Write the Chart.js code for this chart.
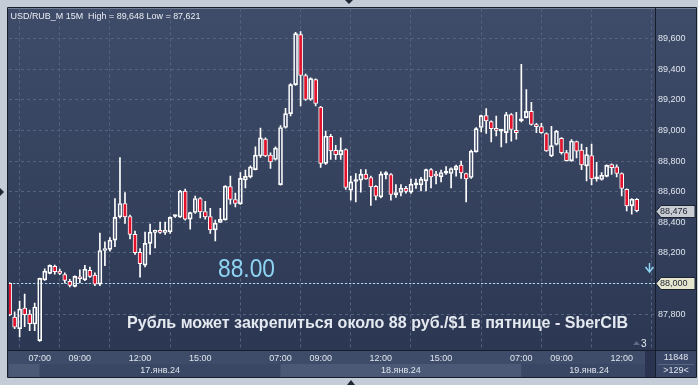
<!DOCTYPE html>
<html>
<head>
<meta charset="utf-8">
<script src="https://cdn.jsdelivr.net/npm/chart.js@4.4.1/dist/chart.umd.min.js"></script>
<style>
    html, body { margin: 0; padding: 0; background: #c4ccd8; overflow: hidden; }
    canvas { display: block; }
</style>
</head>
<body>
<canvas id="priceChart" width="698" height="385"></canvas>
<script>
// USD/RUB_M 15M candles (one entry per 15 min bar)
const opens = [
    88001, 87780, 87704, 87839, 87800, 87735, 87626, 88024, 88066, 88112,
    88081, 88059, 88014, 87981, 88042, 88024, 88086, 88055, 87996, 88216,
    88223, 88284, 88436, 88523, 88438, 88321, 88203, 88120, 88262, 88334,
    88347, 88334, 88338, 88438, 88434, 88604, 88421, 88464, 88556, 88471,
    88438, 88351, 88399, 88416, 88634, 88549, 88521, 88677, 88697, 88745,
    88834, 88945, 88839, 88811, 88647, 89020, 89111, 89301, 89627, 89360,
    89203, 89333, 89154, 88785, 88963, 88870, 88841, 88876, 88610, 88667,
    88676, 88715, 88693, 88636, 88566, 88712, 88713, 88580, 88595, 88623,
    88597, 88645, 88645, 88671, 88745, 88705, 88697, 88722, 88719, 88745,
    88774, 88719, 88693, 88861, 89020, 89098, 89059, 89003, 88996, 88987,
    89105, 89002, 89063, 89085, 89126, 89037, 89026, 88981, 88834, 88909,
    88950, 88856, 88802, 88928, 88872, 88769, 88837, 88684, 88680, 88700,
    88778, 88763, 88719, 88615, 88508, 88551
];
const highs = [
    88005, 87815, 87885, 87931, 87826, 87872, 88035, 88096, 88122, 88120,
    88094, 88070, 88027, 88050, 88090, 88118, 88107, 88070, 88329, 88272,
    88301, 88556, 88824, 88595, 88447, 88342, 88229, 88336, 88388, 88349,
    88401, 88401, 88436, 88447, 88610, 88617, 88467, 88571, 88562, 88538,
    88491, 88414, 88491, 88640, 88702, 88591, 88726, 88741, 88769, 88893,
    89017, 88952, 88854, 88893, 89033, 89146, 89307, 89642, 89648, 89370,
    89345, 89338, 89158, 88996, 88976, 88904, 88952, 88880, 88702, 88719,
    88745, 88745, 88702, 88640, 88730, 88732, 88718, 88647, 88647, 88636,
    88682, 88682, 88695, 88748, 88752, 88734, 88741, 88765, 88756, 88775,
    88800, 88722, 88872, 89020, 89102, 89144, 89063, 89094, 89007, 89120,
    89111, 89120, 89433, 89268, 89185, 89048, 89048, 88985, 89028, 89002,
    88954, 88871, 88941, 88932, 88911, 88891, 88911, 88793, 88726, 88776,
    88782, 88776, 88723, 88619, 88556, 88556
];
const lows = [
    87790, 87704, 87650, 87717, 87691, 87691, 87621, 88020, 88062, 88061,
    88057, 88004, 87978, 87977, 88004, 88018, 88040, 87985, 87985, 88116,
    88212, 88240, 88427, 88393, 88292, 88190, 88041, 88109, 88190, 88233,
    88327, 88321, 88327, 88432, 88432, 88414, 88355, 88458, 88429, 88421,
    88327, 88279, 88397, 88414, 88519, 88501, 88517, 88625, 88690, 88743,
    88824, 88830, 88752, 88806, 88643, 89015, 89096, 89296, 89161, 89198,
    89198, 89161, 88759, 88778, 88811, 88811, 88811, 88615, 88545, 88534,
    88597, 88680, 88510, 88547, 88560, 88684, 88545, 88563, 88573, 88591,
    88589, 88621, 88606, 88606, 88625, 88651, 88664, 88713, 88625, 88702,
    88687, 88534, 88687, 88858, 88991, 88981, 88926, 88965, 88893, 88919,
    88930, 88943, 89056, 89083, 89035, 88987, 88981, 88863, 88830, 88904,
    88845, 88800, 88798, 88821, 88745, 88671, 88645, 88669, 88676, 88697,
    88713, 88697, 88573, 88475, 88453, 88468
];
const closes = [
    87794, 87715, 87833, 87796, 87737, 87846, 88033, 88081, 88118, 88077,
    88066, 88020, 87988, 88046, 88031, 88094, 88046, 87996, 88216, 88229,
    88284, 88432, 88523, 88436, 88321, 88201, 88130, 88262, 88336, 88347,
    88334, 88347, 88432, 88441, 88604, 88421, 88463, 88556, 88468, 88436,
    88351, 88395, 88419, 88636, 88549, 88523, 88687, 88700, 88762, 88839,
    88952, 88834, 88795, 88885, 89020, 89111, 89301, 89634, 89360, 89203,
    89340, 89177, 88785, 88963, 88867, 88843, 88872, 88628, 88664, 88670,
    88715, 88684, 88632, 88571, 88715, 88714, 88582, 88595, 88623, 88602,
    88649, 88648, 88682, 88745, 88697, 88703, 88726, 88725, 88752, 88767,
    88723, 88684, 88865, 89013, 89098, 89063, 89013, 89001, 88997, 89105,
    89007, 88987, 89064, 89126, 89041, 89026, 88987, 88867, 88902, 88996,
    88856, 88804, 88932, 88865, 88776, 88843, 88684, 88686, 88708, 88772,
    88758, 88719, 88621, 88508, 88551, 88476
];

// time axis: bar index of each labelled tick and its label
const timeTickIdx = [6, 14, 26, 38, 54, 62, 74, 86, 102, 110, 122];
const timeTickLabels = ['07:00', '09:00', '12:00', '15:00', '07:00', '09:00', '12:00', '15:00', '07:00', '09:00', '12:00'];
const dayLabels = ['17.янв.24', '18.янв.24', '19.янв.24'];
const dayStartIdx = [6, 54, 102];

// price axis
const priceTicks = [87800, 88000, 88200, 88400, 88600, 88800, 89000, 89200, 89400, 89600];
const lastPrice = 88476;
const levelPrice = 88000;
const levelText = '88.00';

const titleText = 'USD/RUB_M 15M  High = 89,648 Low = 87,621';
const headline = 'Рубль может закрепиться около 88 руб./$1 в пятнице - SberCIB';
const volumeText = '11848';
const countText = '>129<';
const cornerText = '3';

const FONT = '"Liberation Sans", Arial, sans-serif';
const RED = '#e3112c';

function fitText(ctx, text, x, y, width, font, color) {
    ctx.save();
    ctx.font = font;
    const w = ctx.measureText(text).width;
    ctx.translate(x, y);
    ctx.scale(width / w, 1);
    ctx.fillStyle = color;
    ctx.textAlign = 'left';
    ctx.textBaseline = 'alphabetic';
    ctx.fillText(text, 0, 0);
    ctx.restore();
}

function priceTag(ctx, y, text, fill) {
    const x0 = 656, x1 = 695, h = 12;
    ctx.beginPath();
    ctx.moveTo(x0, y);
    ctx.lineTo(x0 + 5, y - h / 2);
    ctx.lineTo(x1, y - h / 2);
    ctx.lineTo(x1, y + h / 2);
    ctx.lineTo(x0 + 5, y + h / 2);
    ctx.closePath();
    ctx.fillStyle = fill;
    ctx.fill();
    ctx.strokeStyle = '#1b2333';
    ctx.lineWidth = 1;
    ctx.stroke();
    ctx.fillStyle = '#1a2130';
    ctx.font = '9px ' + FONT;
    ctx.textAlign = 'left';
    ctx.textBaseline = 'middle';
    ctx.fillText(text, x0 + 4, y + 0.5);
}

const terminalFrame = {
    id: 'terminalFrame',
    beforeDraw(chart) {
        const { ctx, chartArea: a, scales } = chart;
        const xs = scales.x;
        ctx.save();
        ctx.fillStyle = '#c4ccd8';
        ctx.fillRect(0, 0, chart.width, chart.height);

        // plot and price panel
        const g = ctx.createLinearGradient(0, a.top, 0, a.bottom);
        g.addColorStop(0, '#3f4c69');
        g.addColorStop(1, '#2c3853');
        ctx.fillStyle = g;
        ctx.fillRect(8, a.top, 688, a.bottom - a.top);

        // time panel
        ctx.fillStyle = '#3f4c69';
        ctx.fillRect(8, a.bottom, 688, 27);
        const rowTop = a.bottom + 14;
        const bandColors = ['#3a4764', '#4b5977', '#3a4764'];
        ctx.fillStyle = '#4b5977';
        ctx.fillRect(9, rowTop, xs.getPixelForValue(dayStartIdx[0]) - 9, 13);
        dayStartIdx.forEach((s, k) => {
            const x0 = xs.getPixelForValue(s);
            const x1 = k + 1 < dayStartIdx.length ? xs.getPixelForValue(dayStartIdx[k + 1]) : 645;
            ctx.fillStyle = bandColors[k];
            ctx.fillRect(x0, rowTop, x1 - x0, 13);
        });
        ctx.fillStyle = '#2a3450';
        ctx.fillRect(645, a.bottom, 10, 27);
        ctx.fillStyle = '#3a4766';
        ctx.fillRect(656, a.bottom, 40, 27);
        ctx.restore();
    },
    beforeDatasetsDraw(chart) {
        const { ctx, chartArea: a, scales } = chart;
        const y = Math.round(scales.y.getPixelForValue(levelPrice)) + 0.5;
        ctx.save();
        ctx.strokeStyle = '#a6dcf2';
        ctx.lineWidth = 1;
        ctx.setLineDash([2, 2]);
        ctx.beginPath();
        ctx.moveTo(a.left, y);
        ctx.lineTo(a.right, y);
        ctx.stroke();
        ctx.restore();
    },
    afterDraw(chart) {
        const { ctx, chartArea: a, scales } = chart;
        const xs = scales.x, ys = scales.y;
        ctx.save();

        // frame lines
        ctx.strokeStyle = '#161d2b';
        ctx.lineWidth = 1;
        ctx.beginPath();
        ctx.rect(7.5, 7.5, 689, 370);
        ctx.moveTo(8, a.bottom + 0.5); ctx.lineTo(696, a.bottom + 0.5);
        ctx.moveTo(655.5, 8); ctx.lineTo(655.5, 377);
        ctx.stroke();
        ctx.strokeStyle = '#5a6784';
        ctx.beginPath();
        ctx.moveTo(658, a.bottom + 14.5); ctx.lineTo(694, a.bottom + 14.5);
        ctx.stroke();

        // date labels
        ctx.fillStyle = '#dfe5ee';
        ctx.font = '9px ' + FONT;
        ctx.textAlign = 'center';
        ctx.textBaseline = 'middle';
        dayStartIdx.forEach((s, k) => {
            const x0 = xs.getPixelForValue(s);
            const x1 = k + 1 < dayStartIdx.length ? xs.getPixelForValue(dayStartIdx[k + 1]) : 657;
            ctx.fillText(dayLabels[k], (x0 + x1) / 2, a.bottom + 20.5);
        });
        ctx.fillText(volumeText, 676, a.bottom + 7.5);
        ctx.fillText(countText, 676, a.bottom + 20.5);

        // header, level text, headline
        fitText(ctx, titleText, 10.5, 18.5, 190, '9px ' + FONT, '#e9edf4');
        fitText(ctx, levelText, 218, 277, 57, '25px ' + FONT, '#8fd3f3');
        fitText(ctx, headline, 127, 327.5, 501, 'bold 17px ' + FONT, '#e4e8ef');

        // price tags
        priceTag(ctx, Math.round(ys.getPixelForValue(lastPrice)) + 0.5, lastPrice.toLocaleString('en-US'), '#c8ccd3');
        priceTag(ctx, Math.round(ys.getPixelForValue(levelPrice)) + 0.5, levelPrice.toLocaleString('en-US'), '#e6e6cf');

        // alert arrow
        ctx.strokeStyle = '#8fd3f3';
        ctx.fillStyle = '#8fd3f3';
        ctx.lineWidth = 1.5;
        ctx.beginPath();
        ctx.moveTo(649.5, 263); ctx.lineTo(649.5, 271);
        ctx.stroke();
        ctx.beginPath();
        ctx.moveTo(645.5, 267); ctx.lineTo(649.5, 272); ctx.lineTo(653.5, 267);
        ctx.stroke();

        // corner counter
        ctx.fillStyle = '#5e6a86';
        ctx.beginPath();
        ctx.moveTo(633, 345); ctx.lineTo(636.5, 341); ctx.lineTo(640, 345);
        ctx.closePath();
        ctx.fill();
        ctx.fillStyle = '#e9edf4';
        ctx.font = '10px ' + FONT;
        ctx.textAlign = 'left';
        ctx.fillText(cornerText, 641, 344);

        // window splitter arrows
        ctx.fillStyle = '#1f2737';
        ctx.beginPath();
        ctx.moveTo(345, 0); ctx.lineTo(353, 0); ctx.lineTo(349, 4); ctx.closePath();
        ctx.moveTo(347, 385); ctx.lineTo(355, 385); ctx.lineTo(351, 380); ctx.closePath();
        ctx.moveTo(0, 188); ctx.lineTo(0, 196); ctx.lineTo(4, 192); ctx.closePath();
        ctx.fill();
        ctx.restore();
    }
};

const bars = opens.map((o, i) => i);
const bodies = bars.map(i => ({ x: i, y: [opens[i], closes[i]] }));
const upperWicks = bars.map(i => ({ x: i, y: [Math.max(opens[i], closes[i]), highs[i]] }));
const lowerWicks = bars.map(i => ({ x: i, y: [lows[i], Math.min(opens[i], closes[i])] }));

new Chart(document.getElementById('priceChart'), {
    type: 'bar',
    data: {
        datasets: [{
            data: bodies,
            grouped: false,
            barThickness: 4,
            borderWidth: 1,
            borderColor: '#ffffff',
            borderSkipped: false,
            minBarLength: 2,
            backgroundColor: c => closes[c.dataIndex] < opens[c.dataIndex] ? RED : 'rgba(0,0,0,0)'
        }, {
            data: upperWicks,
            grouped: false,
            barThickness: 1,
            borderWidth: 0,
            backgroundColor: '#ffffff'
        }, {
            data: lowerWicks,
            grouped: false,
            barThickness: 1,
            borderWidth: 0,
            backgroundColor: '#ffffff'
        }]
    },
    options: {
        responsive: false,
        animation: false,
        events: [],
        layout: { padding: { left: 9, top: 8, right: 2, bottom: 8 } },
        plugins: {
            legend: { display: false },
            tooltip: { enabled: false }
        },
        scales: {
            x: {
                type: 'linear',
                min: -0.12,
                max: 128.64,
                offset: false,
                afterBuildTicks: s => { s.ticks = timeTickIdx.map(v => ({ value: v })); },
                afterFit: s => { s.height = 27; },
                grid: { color: '#56637f', drawTicks: false },
                border: { display: false, dash: [3, 3] },
                ticks: {
                    autoSkip: false,
                    maxRotation: 0,
                    padding: 3,
                    color: '#dfe5ee',
                    font: { size: 9, family: FONT },
                    callback: (v, i) => timeTickLabels[i]
                }
            },
            y: {
                position: 'right',
                min: 87565,
                max: 89799,
                afterBuildTicks: s => { s.ticks = priceTicks.map(v => ({ value: v })); },
                afterFit: s => { s.width = 41; },
                grid: { color: '#56637f', drawTicks: false },
                border: { display: false, dash: [3, 3] },
                ticks: {
                    padding: 3,
                    color: '#dfe5ee',
                    font: { size: 9, family: FONT },
                    callback: v => v.toLocaleString('en-US')
                }
            }
        }
    },
    plugins: [terminalFrame]
});
</script>
</body>
</html>
